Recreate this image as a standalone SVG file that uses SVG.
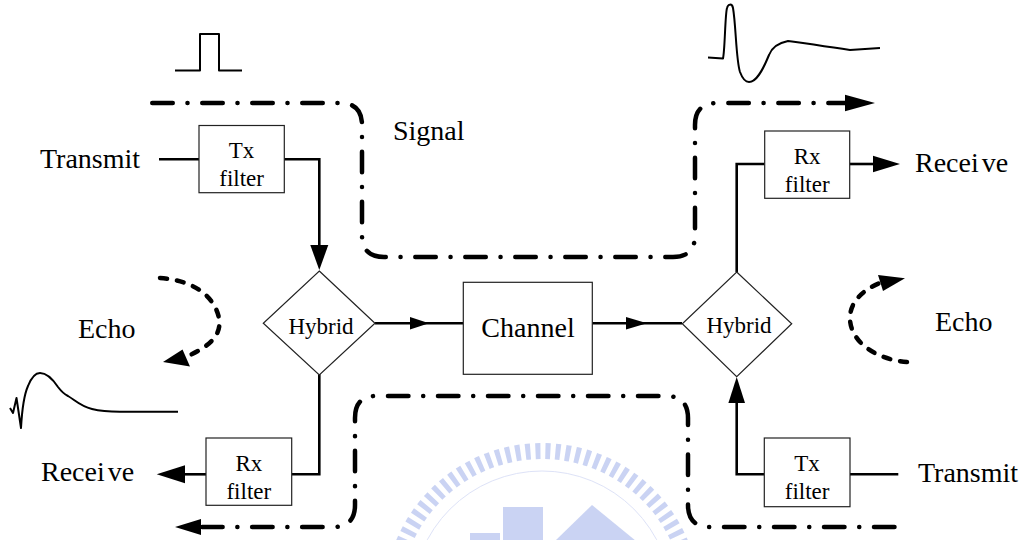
<svg xmlns="http://www.w3.org/2000/svg" width="1026" height="540" viewBox="0 0 1026 540">
<style>
  .lbl { font-size: 28px; }
  .box-t { font-size: 23px; text-anchor: middle; font-family: 'Liberation Serif', serif; }
  .box { fill: #fff; stroke: #222; stroke-width: 1.2; }
  .wire { fill: none; stroke: #000; stroke-width: 2.6; }
  .head { fill: #000; stroke: none; }
  .dd { fill: none; stroke: #000; stroke-width: 4.5; stroke-linecap: round; stroke-dasharray: 20.5 14.7 0.1 14.7; }
  .echo { fill: none; stroke: #000; stroke-width: 4.5; stroke-linecap: round; stroke-dasharray: 7 10; }
  .wave { fill: none; stroke: #000; stroke-width: 2; stroke-linejoin: round; }
</style>

<g id="watermark" opacity="0.55">
  <circle cx="542" cy="601" r="150" fill="none" stroke="#9fb0ea" stroke-width="16" stroke-dasharray="5 5"/>
  <circle cx="542" cy="601" r="130" fill="none" stroke="#c3ccf2" stroke-width="1"/>
  <rect x="470" y="533" width="30" height="10" fill="#9fb0ea"/>
  <rect x="503" y="507" width="40" height="36" fill="#9fb0ea"/>
  <polygon points="555,541 592,505 636,541" fill="#9fb0ea"/>
</g>

<g id="waveforms">
  <path class="wave" d="M175,70.5 H200 V34 H219 V70.5 H242"/>
  <path class="wave" d="M708,57.5 L723,58.5 C725,50 725,15 727,8 C728,4 732,3 733,8 C736,25 736,60 740,72 C743,80 746,82 749,82 C756,82 762,72 769,55 C772,47 778,43 788,41 C800,42 820,46 850,50 L880,48"/>
  <path class="wave" d="M10,408 L13,413 L16.5,398 L21,428 C22,410 24,395 28,386 C32,376 36,373 40,373 C46,373 52,378 58,387 C61,391 64,394 68,396 C75,400 80,406 92,409 C100,411 110,411.7 120,411.7 L178,411.7"/>
</g>

<g id="signal-paths">
  <path class="dd" d="M152.25,103 H340 Q362,103 362,125 V235 Q362,257 384,257 H673 Q695,257 695,235 V125 Q695,103 717,103 H845"/>
  <polygon class="head" points="845,94.7 845,111.3 875,103"/>
  <path class="dd" d="M894.5,527 H710 Q688,527 688,505 V418 Q688,396 666,396 H376 Q355,396 355,418 V505 Q355,527 333,527 H200"/>
  <polygon class="head" points="201,519 201,535 175,527"/>
</g>

<g id="echo-arrows">
  <path class="echo" d="M160,278 C192,280 214,295 219,318 C222,335 210,346 188,356"/>
  <polygon class="head" points="163,362 182.5,349.5 190,366.5"/>
  <path class="echo" d="M907,362 C880,360 852,345 850,320 C849,303 862,290 880,283"/>
  <polygon class="head" points="905,278.3 878,275 883,291"/>
</g>

<g id="connectors">
  <path class="wire" d="M159,159.3 H199"/>
  <path class="wire" d="M284,159.3 H319.3 V247"/>
  <polygon class="head" points="310.3,245 328.3,245 319.3,270"/>
  <path class="wire" d="M375,323.3 H463"/>
  <polygon class="head" points="410,317 410,329.6 429,323.3"/>
  <path class="wire" d="M592,323.3 H682"/>
  <polygon class="head" points="626,317 626,329.6 647,323.3"/>
  <path class="wire" d="M736.7,272 V164 H764.7"/>
  <path class="wire" d="M849.7,164 H875"/>
  <polygon class="head" points="873,155.7 873,172.3 900,164"/>
  <path class="wire" d="M319.3,374.3 V474.3 H291.7"/>
  <path class="wire" d="M206,474.3 H183"/>
  <polygon class="head" points="185,465.3 185,483.3 156.7,474.3"/>
  <path class="wire" d="M898.3,474.3 H850"/>
  <path class="wire" d="M764,474.3 H736.7 V401"/>
  <polygon class="head" points="728.4,403 745,403 736.7,377"/>
</g>

<g id="tx-filter-left">
  <rect class="box" x="199" y="125.5" width="85.3" height="67.2"/>
  <text class="box-t" x="241.6" y="158.3">Tx</text>
  <text class="box-t" x="241.6" y="185.7">filter</text>
</g>
<g id="rx-filter-right">
  <rect class="box" x="764.7" y="131" width="85" height="67.3"/>
  <text class="box-t" x="807.2" y="164.3">Rx</text>
  <text class="box-t" x="807.2" y="191.7">filter</text>
</g>
<g id="rx-filter-left">
  <rect class="box" x="206" y="438" width="85.7" height="67.3"/>
  <text class="box-t" x="248.8" y="471.3">Rx</text>
  <text class="box-t" x="248.8" y="498.7">filter</text>
</g>
<g id="tx-filter-right">
  <rect class="box" x="764.3" y="438" width="85.7" height="68.7"/>
  <text class="box-t" x="807.1" y="471.3">Tx</text>
  <text class="box-t" x="807.1" y="498.7">filter</text>
</g>
<g id="hybrid-left">
  <polygon class="box" points="319.3,271 375,323.3 319.3,375 263.3,323.3"/>
  <text class="box-t" x="321" y="334">Hybrid</text>
</g>
<g id="hybrid-right">
  <polygon class="box" points="736.7,272 791.7,323.8 736.7,376.7 682.3,323.8"/>
  <text class="box-t" x="739" y="333.3">Hybrid</text>
</g>
<g id="channel" font-family="Liberation Serif, serif">
  <rect class="box" x="463.3" y="282.3" width="129" height="92"/>
  <text class="lbl" x="528" y="337" text-anchor="middle">Channel</text>
</g>

<g id="labels" font-family="Liberation Serif, serif">
  <text class="lbl" x="40" y="167.7">Transmit</text>
  <text class="lbl" x="41" y="481">Recei<tspan dx="3">ve</tspan></text>
  <text class="lbl" x="78" y="338.3">Echo</text>
  <text class="lbl" x="393" y="140">Signal</text>
  <text class="lbl" x="915" y="172">Recei<tspan dx="3">ve</tspan></text>
  <text class="lbl" x="935" y="331">Echo</text>
  <text class="lbl" x="918" y="481.7">Transmit</text>
</g>
</svg>
